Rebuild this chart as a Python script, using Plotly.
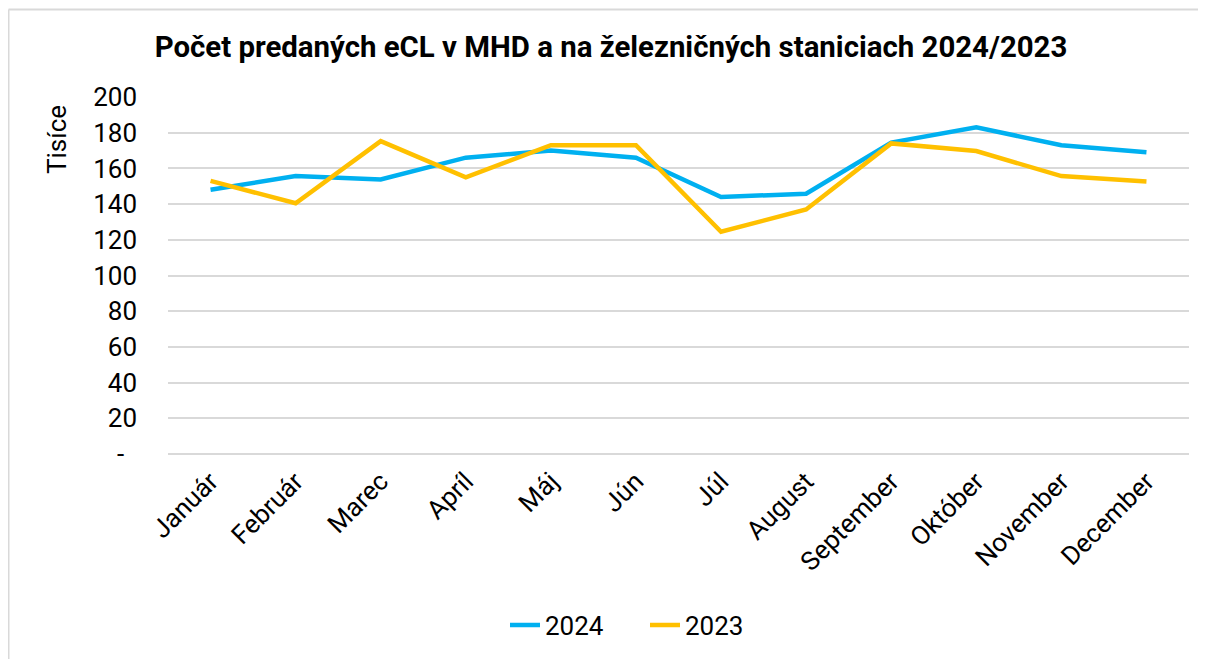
import plotly.graph_objects as go

months = ["Január", "Február", "Marec", "Apríl", "Máj", "Jún", "Júl", "August",
          "September", "Október", "November", "December"]
v2024 = [148, 155.7, 153.8, 166, 170, 166, 144, 145.8, 174.5, 183, 173, 169]
v2023 = [153, 140.5, 175.3, 155, 173, 173, 124.5, 137, 174, 169.7, 155.7, 152.7]
ytickvals = [0, 20, 40, 60, 80, 100, 120, 140, 160, 180, 200]
yticktext = ["-\u00a0\u00a0"] + [str(v) for v in ytickvals[1:]]

FONT = "Roboto"
FS = 26

# page body has an 8px margin, so the figure is 8px smaller than the window
W, H = 1198, 651
L, R, T, B = 160, 17, 89, 205
pw, ph = W - L - R, H - T - B


def px_x(sx):  # screen x -> paper x (plot-area fraction)
    return (sx - 8 - L) / pw


def px_y(sy):  # screen y -> paper y
    return 1 - (sy - 8 - T) / ph


fig = go.Figure()
fig.add_trace(go.Scatter(x=months, y=v2024, name="2024", mode="lines",
                         line=dict(color="#00B0F0", width=4.5)))
fig.add_trace(go.Scatter(x=months, y=v2023, name="2023", mode="lines",
                         line=dict(color="#FFC000", width=4.5)))

border = dict(color="#D9D9D9", width=2)
fig.update_layout(
    width=W, height=H,
    paper_bgcolor="white", plot_bgcolor="white",
    margin=dict(l=L, r=R, t=T, b=B, autoexpand=False),
    font=dict(family=FONT, size=FS, color="black"),
    title=dict(text="<b>Počet predaných eCL v MHD a na železničných staniciach 2024/2023</b>",
               x=(611 - 8) / W, xanchor="center", xref="container",
               y=1 - (47 - 8) / H, yanchor="middle",
               font=dict(family=FONT, size=29.4, color="black")),
    legend=dict(orientation="h", x=px_x(505), xanchor="left", xref="paper",
                y=px_y(625), yanchor="middle", font=dict(size=FS),
                bgcolor="rgba(0,0,0,0)", entrywidth=95, entrywidthmode="pixels"),
    annotations=[dict(text="Tisíce", textangle=-90, xref="paper", yref="paper",
                      x=px_x(57), y=px_y(140), xanchor="center", yanchor="middle",
                      showarrow=False, font=dict(size=FS))],
    shapes=[
        dict(type="line", xref="paper", yref="paper",
             x0=px_x(8.5), x1=px_x(1206), y0=px_y(9.5), y1=px_y(9.5), line=border),
        dict(type="line", xref="paper", yref="paper",
             x0=px_x(8.5), x1=px_x(8.5), y0=px_y(9.5), y1=px_y(659), line=border),
    ],
)
fig.update_xaxes(showgrid=False, showline=False, zeroline=False, tickangle=-45,
                 tickfont=dict(size=FS), ticks="", range=[-0.5, 11.5],
                 ticklabelstandoff=6)
fig.update_yaxes(range=[0, 200], tickvals=ytickvals, ticktext=yticktext,
                 showgrid=True, gridcolor="#D9D9D9", gridwidth=1.5,
                 zeroline=True, zerolinecolor="#D9D9D9", zerolinewidth=1.5,
                 showline=False, ticks="", ticklabelstandoff=30,
                 tickfont=dict(size=FS))

fig.write_html("out.html")
